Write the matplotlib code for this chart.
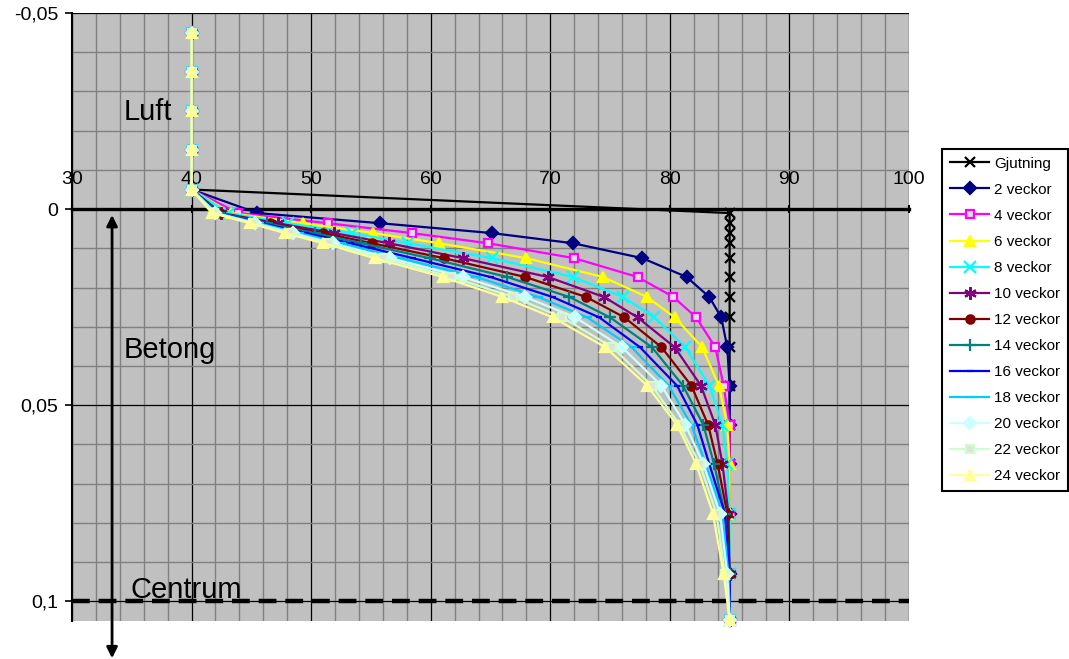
import numpy as np
import matplotlib.pyplot as plt
from matplotlib.ticker import MultipleLocator

plt.rcParams['font.family'] = ['Liberation Sans', 'DejaVu Sans']

# depth (m) in the air layer and in the concrete
luft_djup = [-0.045, -0.035, -0.025, -0.015, -0.005]
betong_djup = [0.001, 0.0036, 0.0061, 0.0087, 0.0125, 0.0173, 0.0224, 0.0276,
               0.0352, 0.045, 0.055, 0.065, 0.0776, 0.093, 0.1048]

# RH in the air (same for all series)
rh_luft = [40, 40, 40, 40, 40]

# RH (%) in the concrete per series
gjutning = [85, 85, 85, 85, 85, 85, 85, 85, 85, 85, 85, 85, 85, 85, 85]
v2 = [45.5, 55.8, 65.1, 71.9, 77.7, 81.4, 83.3, 84.3, 84.8, 85, 85, 85, 85, 85, 85]
v4 = [43.9, 51.4, 58.4, 64.8, 72.0, 77.3, 80.3, 82.2, 83.8, 84.5, 85, 85, 85, 85, 85]
v6 = [43.3, 49.3, 55.2, 60.7, 68.0, 74.4, 78.1, 80.4, 82.7, 84.1, 84.8, 85, 85, 85, 85]
v8 = [43.1, 48.1, 53.4, 58.1, 65.1, 71.9, 76.1, 78.7, 81.3, 83.3, 84.4, 84.8, 85, 85, 85]
v10 = [42.5, 47.2, 51.9, 56.5, 62.7, 69.8, 74.5, 77.3, 80.4, 82.6, 83.8, 84.4, 84.9, 85, 85]
v12 = [42.4, 46.6, 51.0, 55.1, 61.1, 67.9, 73.0, 76.2, 79.3, 81.8, 83.2, 84.0, 84.8, 85, 85]
v14 = [42.3, 46.3, 50.3, 54.2, 59.9, 66.4, 71.6, 75.0, 78.5, 81.1, 82.8, 83.7, 84.6, 85, 85]
v16 = [42.2, 45.9, 49.6, 53.3, 58.5, 65.0, 70.2, 74.1, 77.5, 80.6, 82.3, 83.3, 84.6, 85, 85]
v18 = [42.1, 45.6, 49.0, 52.5, 57.4, 63.8, 69.0, 73.1, 76.8, 79.9, 81.8, 83.0, 84.4, 84.9, 85]
v20 = [42.0, 45.3, 48.5, 51.8, 56.6, 62.7, 67.9, 72.1, 76.0, 79.3, 81.3, 82.8, 84.2, 84.8, 85]
v22 = [41.9, 45.1, 48.2, 51.5, 56.0, 61.7, 66.9, 71.0, 75.2, 78.5, 80.8, 82.5, 83.9, 84.6, 85]
v24 = [41.7, 44.9, 47.8, 51.0, 55.3, 61.0, 66.0, 70.2, 74.6, 78.1, 80.6, 82.2, 83.6, 84.5, 85]

etiketter = ['Gjutning', '2 veckor', '4 veckor', '6 veckor', '8 veckor', '10 veckor',
             '12 veckor', '14 veckor', '16 veckor', '18 veckor', '20 veckor',
             '22 veckor', '24 veckor']
serier = [gjutning, v2, v4, v6, v8, v10, v12, v14, v16, v18, v20, v22, v24]
farger = ['black', '#000080', '#FF00FF', '#FFFF00', '#00FFFF', '#800080', '#800000',
          '#008080', '#0000FF', '#00CCFF', '#CCFFFF', '#CCFFCC', '#FFFF99']
markorer = ['x', 'D', 's', '^', 'x', (6, 2, 0), 'o', '+', '_', '_', 'D', 's', '^']
storlek = [7, 6, 6, 7, 8, 9, 6, 9, 4, 7, 6, 6, 7]

fig = plt.figure(figsize=(10.69, 6.59), dpi=100)
ax = fig.add_axes([72/1069, 1 - 621/659, (909-72)/1069, (621-13)/659])
ax.set_facecolor('#C0C0C0')

djup = luft_djup + betong_djup
for lab, s, c, m, ms in zip(etiketter, serier, farger, markorer, storlek):
    ax.plot(rh_luft + s, djup, color=c, lw=1.6, marker=m, ms=ms,
            mfc='#E0E0E0' if m == 's' else c, mec=c, mew=1.6,
            label=lab, clip_on=False, zorder=3)

ax.set_xlim(30, 100)
ax.set_ylim(0.105, -0.05)

ax.xaxis.set_major_locator(MultipleLocator(10))
ax.xaxis.set_minor_locator(MultipleLocator(2))
ax.yaxis.set_major_locator(MultipleLocator(0.05))
ax.yaxis.set_minor_locator(MultipleLocator(0.01))
ax.grid(which='minor', color='#808080', lw=1.0, zorder=0)
ax.grid(which='major', color='black', lw=0.9, zorder=1)
ax.set_axisbelow(True)

ax.set_yticks([-0.05, 0, 0.05, 0.1])
ax.set_yticklabels(['-0,05', '0', '0,05', '0,1'])

# x axis crossing at depth 0, labels above
ax.spines['top'].set_position(('data', 0))
ax.spines['top'].set_linewidth(2.4)
ax.spines['top'].set_zorder(2)
ax.spines['bottom'].set_visible(False)
ax.spines['right'].set_visible(False)
ax.spines['left'].set_linewidth(1.5)
ax.xaxis.set_ticks_position('top')
ax.tick_params(axis='x', which='major', direction='inout', length=6, width=1.5,
               labelsize=14, pad=12)
ax.tick_params(axis='x', which='minor', length=0)
ax.tick_params(axis='y', which='major', direction='out', length=5, width=1.2,
               labelsize=14, pad=5)
ax.tick_params(axis='y', which='minor', length=0)

ax.axhline(0.1, color='black', lw=3.2, ls=(0, (4, 2)), zorder=2)

ax.text(34.3, -0.0247, 'Luft', fontsize=21, va='center', ha='left')
ax.text(34.35, 0.036, 'Betong', fontsize=21, va='center', ha='left')
ax.text(34.9, 0.0972, 'Centrum', fontsize=21, va='center', ha='left')

ax.annotate('', xy=(33.35, 0.0015), xytext=(33.35, 0.1145),
            arrowprops=dict(arrowstyle='<|-|>', color='black', lw=2,
                            mutation_scale=16, shrinkA=0, shrinkB=0),
            annotation_clip=False)

leg = ax.legend(loc='upper left', bbox_to_anchor=(942/1069, 1 - 149/659),
                bbox_transform=fig.transFigure, borderaxespad=0,
                fontsize=11, handlelength=2.6, handletextpad=0.3,
                borderpad=0.5, labelspacing=0.79, numpoints=1,
                fancybox=False, framealpha=1)
leg.get_frame().set_edgecolor('black')
leg.get_frame().set_linewidth(1.5)

fig.savefig('out.png', dpi=100)
